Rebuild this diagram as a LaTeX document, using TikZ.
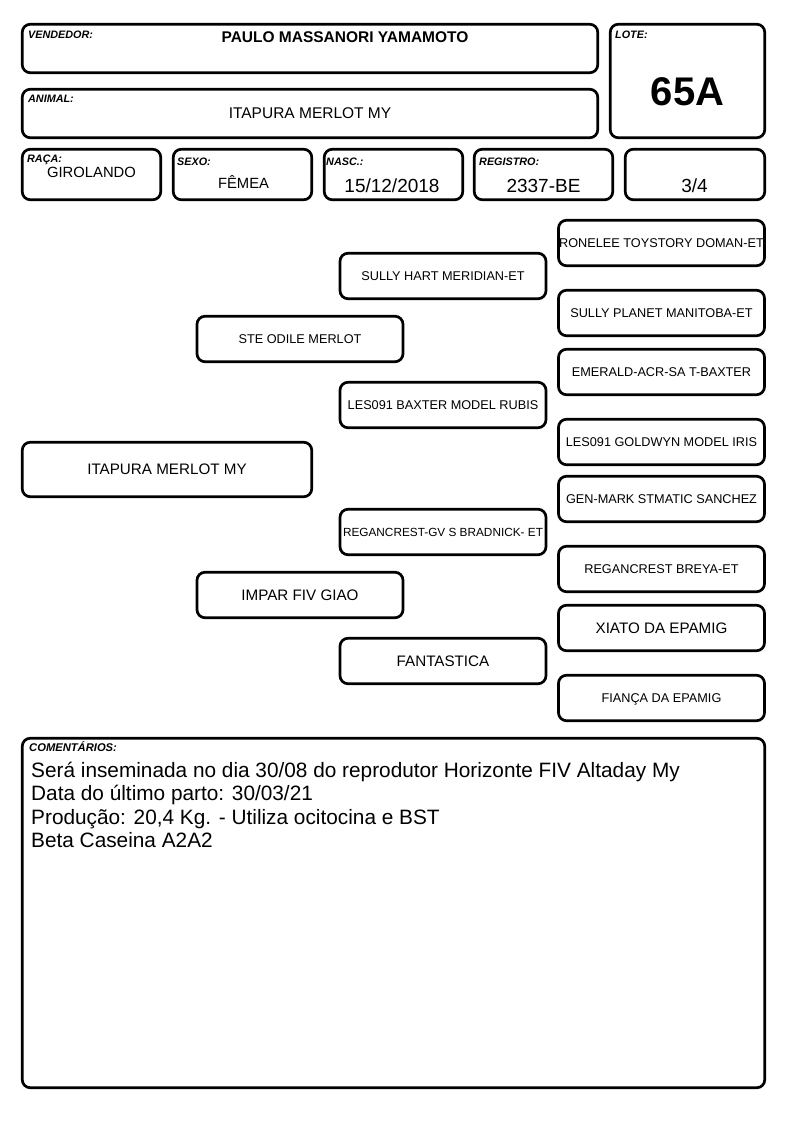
\documentclass[tikz,border=0pt]{standalone}
\usepackage{fontspec}
\setmainfont{Liberation Sans}
\begin{document}
\begin{tikzpicture}[x=1pt,y=-1pt,
  box/.style={draw, line width=2.7pt, rounded corners=8pt, inner sep=0pt},
  ped/.style={box, minimum width=206pt, minimum height=45.5pt, text depth=0pt, font=\fontsize{12.7}{15}\selectfont},
  lab/.style={anchor=base west, inner sep=0pt, font=\fontsize{10.8}{12}\selectfont\bfseries\itshape},
  val/.style={anchor=base, inner sep=0pt, font=\fontsize{14.8}{17}\selectfont},
  txt/.style={anchor=base west, inner sep=0pt, font=\fontsize{20.8}{24}\selectfont}]
\useasboundingbox (0,0) rectangle (794,1123);

% cabecalho
\node[box, minimum width=575.5pt, minimum height=48.5pt] (vend) at (310,48.5) {};
\node[box, minimum width=575.5pt, minimum height=48.5pt] (anim) at (310,113.5) {};
\node[box, minimum width=154.5pt, minimum height=113.5pt] (lote) at (687.5,81) {};
\node[box, minimum width=138.5pt, minimum height=50.5pt] (raca) at (91.5,174.5) {};
\node[box, minimum width=138.5pt, minimum height=50.5pt] (sexo) at (242.5,174.5) {};
\node[box, minimum width=138.5pt, minimum height=50.5pt] (nasc) at (393.5,174.5) {};
\node[box, minimum width=138.5pt, minimum height=50.5pt] (reg) at (543.5,174.5) {};
\node[box, minimum width=139.5pt, minimum height=50.5pt] (frac) at (695,174.5) {};

\node[lab] (vendlab) at (28,39) {VENDEDOR:};
\node[lab] (animlab) at (28,103) {ANIMAL:};
\node[lab] (lotelab) at (615,39) {LOTE:};
\node[lab] (racalab) at (27,163) {RAÇA:};
\node[lab] (sexolab) at (177,166) {SEXO:};
\node[lab] (nasclab) at (326,166) {NASC.:};
\node[lab] (reglab) at (479,166) {REGISTRO:};

\node[val, font=\fontsize{15.5}{18}\selectfont\bfseries] (vendval) at (345,43) {PAULO MASSANORI YAMAMOTO};
\node[val, font=\fontsize{15.5}{18}\selectfont] (animval) at (310,119) {ITAPURA MERLOT MY};
\node[val, font=\fontsize{40}{44}\selectfont\bfseries] (loteval) at (687.5,106) {65A};
\node[val] (racaval) at (91.5,178) {GIROLANDO};
\node[val] (sexoval) at (243.5,189) {FÊMEA};
\node[val, font=\fontsize{19}{22}\selectfont] (nascval) at (392,192.5) {15/12/2018};
\node[val, font=\fontsize{19}{22}\selectfont] (regval) at (543.5,192.5) {2337-BE};
\node[val, font=\fontsize{19}{22}\selectfont] (fracval) at (694.5,192.5) {3/4};

% genealogia
\node[ped, minimum width=289.5pt, minimum height=54.5pt, font=\fontsize{15.2}{18}\selectfont] (an) at (167,469.5) {ITAPURA MERLOT MY};
\node[ped] (p) at (300,339) {STE ODILE MERLOT};
\node[ped, font=\fontsize{15.2}{18}\selectfont] (m) at (300,595) {IMPAR FIV GIAO};
\node[ped] (pp) at (443,276) {SULLY HART MERIDIAN-ET};
\node[ped] (pm) at (443,405) {LES091 BAXTER MODEL RUBIS};
\node[ped, font=\fontsize{11.8}{14}\selectfont] (mp) at (443,532) {REGANCREST-GV S BRADNICK- ET};
\node[ped, font=\fontsize{15.2}{18}\selectfont] (mm) at (443,661) {FANTASTICA};
\node[ped] (ppp) at (661.5,243) {RONELEE TOYSTORY DOMAN-ET};
\node[ped] (ppm) at (661.5,313) {SULLY PLANET MANITOBA-ET};
\node[ped] (pmp) at (661.5,372) {EMERALD-ACR-SA T-BAXTER};
\node[ped] (pmm) at (661.5,442) {LES091 GOLDWYN MODEL IRIS};
\node[ped] (mpp) at (661.5,499) {GEN-MARK STMATIC SANCHEZ};
\node[ped] (mpm) at (661.5,569) {REGANCREST BREYA-ET};
\node[ped, font=\fontsize{15.2}{18}\selectfont] (mmp) at (661.5,628) {XIATO DA EPAMIG};
\node[ped] (mmm) at (661.5,698) {FIANÇA DA EPAMIG};

% comentarios
\node[box, minimum width=742.5pt, minimum height=349.5pt] (com) at (393.5,913) {};
\node[lab, font=\fontsize{11.2}{12}\selectfont\bfseries\itshape] (comlab) at (29,751) {COMENTÁRIOS:};
\node[txt] (c1) at (31,777) {Será inseminada no dia 30/08 do reprodutor Horizonte FIV Altaday My};
\node[txt] (c2) at (31,800.5) {Data do último parto: 30/03/21};
\node[txt] (c3) at (31,824) {Produção: 20,4 Kg. - Utiliza ocitocina e BST};
\node[txt] (c4) at (31,847) {Beta Caseina A2A2};
\end{tikzpicture}
\end{document}
